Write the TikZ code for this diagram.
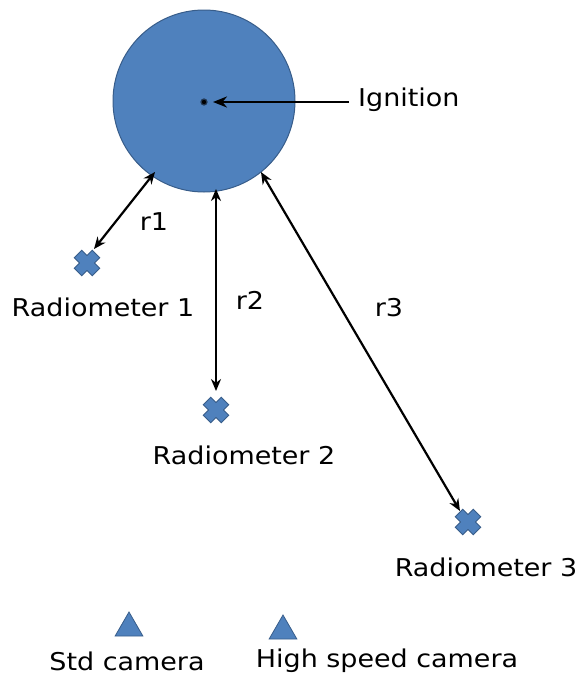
\documentclass[tikz,border=0pt]{standalone}
\usepackage{fontspec}
\setmainfont{DejaVu Sans}[FakeStretch=1.1]
\usetikzlibrary{arrows.meta,shapes.geometric}
\definecolor{fillblue}{HTML}{4F81BD}
\definecolor{edgeblue}{HTML}{385D8A}
\begin{document}
\begin{tikzpicture}[x=1pt,y=-1pt,
  lbl/.style={font=\fontsize{24.5}{28}\selectfont, inner sep=0pt},
  conn/.style={line width=2.2pt, {Stealth[length=12pt,width=10pt]}-{Stealth[length=12pt,width=10pt]}},
  onearrow/.style={line width=2.6pt, -{Stealth[length=14pt,width=11pt]}},
  cam/.style={regular polygon, regular polygon sides=3, fill=fillblue, draw=edgeblue, line width=0.8pt, minimum size=32pt, inner sep=0pt}]
\useasboundingbox (0,0) rectangle (581,675);
% fire circle
\node[circle, fill=fillblue, draw=edgeblue, line width=1pt, minimum size=182pt, inner sep=0pt] (fire) at (204,101) {};
\node[circle, fill=black, draw=edgeblue!60!black, line width=1.2pt, minimum size=6pt, inner sep=0pt] (ign) at (204,102) {};
\node[lbl, anchor=west] (ignlbl) at (358,100) {Ignition};
\coordinate (ignstart) at (349,102);
\draw[onearrow] (ignstart) -- ([xshift=9pt]ign.center);
\coordinate (m1) at (87,263);
\coordinate (m2) at (216,410);
\coordinate (m3) at (468,522);
% arrows
\coordinate (a1s) at (155,172);
\coordinate (a1e) at (94,249);
\coordinate (a2s) at (216,189);
\coordinate (a2e) at (216,391);
\coordinate (a3s) at (261,172);
\coordinate (a3e) at (460,511);
\draw[conn] (a1s) -- (a1e);
\draw[conn] (a2s) -- (a2e);
\draw[conn] (a3s) -- (a3e);
\node[lbl] (r1) at (154,222) {r1};
\node[lbl] (r2) at (250,300) {r2};
\node[lbl] (r3) at (389,308) {r3};
% markers
\foreach \m in {m1,m2,m3}{
  \draw[edgeblue, line width=11.5pt] ([shift={(-9.3,-9.3)}]\m) -- ([shift={(9.3,9.3)}]\m) ([shift={(-9.3,9.3)}]\m) -- ([shift={(9.3,-9.3)}]\m);
  \draw[fillblue, line width=9.5pt] ([shift={(-8.6,-8.6)}]\m) -- ([shift={(8.6,8.6)}]\m) ([shift={(-8.6,8.6)}]\m) -- ([shift={(8.6,-8.6)}]\m);
}
\node[lbl] (rad1) at (103,307) {Radiometer 1};
\node[lbl] (rad2) at (244,455) {Radiometer 2};
\node[lbl] (rad3) at (486,567) {Radiometer 3};
% cameras
\node[cam] (cam1) at (129,628) {};
\node[cam] (cam2) at (283,631) {};
\node[lbl] (cam1lbl) at (127,661) {Std camera};
\node[lbl] (cam2lbl) at (387,661) {High speed camera};
\end{tikzpicture}
\end{document}
